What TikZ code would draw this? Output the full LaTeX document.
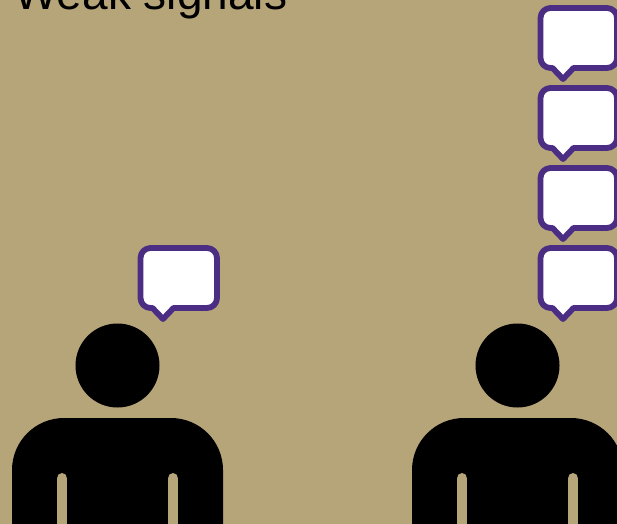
\documentclass[tikz,border=0pt]{standalone}
\usepackage{fontspec}
\setmainfont{Liberation Sans}
\definecolor{goldbg}{RGB}{183,165,122}
\definecolor{purplebubble}{RGB}{75,46,131}
\tikzset{
  bubbleline/.style={draw=purplebubble, fill=white, line width=3.3pt, line join=round},
  slitline/.style={draw=goldbg, line width=6.24pt, line cap=round},
}
\newcommand{\speechbubble}[2]{
  \draw[bubbleline, shift={(#1,#2)}] (150.5,248) -- (207,248) arc (-90:0:10) -- (217,298) arc (0:90:10)
    -- (173.5,308) -- (163,319) -- (152.5,308) -- (150.5,308) arc (90:180:10) -- (140.5,258) arc (180:270:10) -- cycle;
}
\newcommand{\personfigure}[1]{
  \fill[shift={(#1,0)}] (117.5,365.5) circle (42);
  \fill[shift={(#1,0)}] (12,540) -- (12,470) arc (180:270:52) -- (171,418) arc (-90:0:52) -- (223,540) -- cycle;
  \draw[slitline, shift={(#1,0)}] (62,478.5) -- (62,540);
  \draw[slitline, shift={(#1,0)}] (173,478.5) -- (173,540);
}
\begin{document}
\begin{tikzpicture}[x=0.02cm, y=-0.02cm]
  \useasboundingbox (0,0) rectangle (617,523.6);
  \clip (0,0) rectangle (617,523.6);
  \fill[goldbg] (0,0) rectangle (617,524);
  \node[anchor=base west, inner sep=0pt, font=\fontsize{26.2pt}{30pt}\selectfont] (weaksignals) at (14,10) {Weak signals};
  \personfigure{0}
  \personfigure{400}
  \speechbubble{0}{0}
  \speechbubble{400}{0}
  \speechbubble{400}{-80}
  \speechbubble{400}{-160}
  \speechbubble{400}{-240}
\end{tikzpicture}
\end{document}
